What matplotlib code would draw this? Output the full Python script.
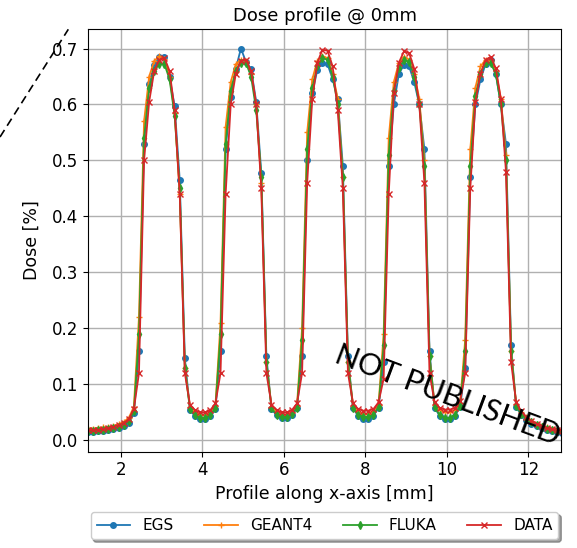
"""
Dose profile at 0 mm depth: EGS / GEANT4 / FLUKA simulations against measured data
"""

import numpy as np
import matplotlib
matplotlib.use('Agg')
import matplotlib.pyplot as plt
from matplotlib.lines import Line2D

# ------------------------------------------------------------------
# Profile samples (x in mm, 0.125 mm detector pitch)
# ------------------------------------------------------------------
x_mm = np.arange(94) * 0.125 + 1.2

egs = [
    # left tail
    0.015, 0.015, 0.016, 0.017, 0.018, 0.020, 0.022, 0.025, 0.031, 0.048,
    # peak 1 / valley 1
    0.16, 0.53, 0.637, 0.671, 0.684, 0.685, 0.649, 0.597, 0.465, 0.147,
    0.055, 0.043, 0.038, 0.038, 0.043, 0.056,
    # peak 2 / valley 2
    0.16, 0.52, 0.614, 0.664, 0.700, 0.676, 0.663, 0.605, 0.478, 0.15,
    0.056, 0.045, 0.040, 0.040, 0.045, 0.057,
    # peak 3 / valley 3
    0.15, 0.50, 0.62, 0.662, 0.674, 0.672, 0.645, 0.61, 0.49, 0.15,
    0.057, 0.044, 0.038, 0.038, 0.044, 0.058,
    # peak 4 / valley 4
    0.14, 0.49, 0.60, 0.655, 0.671, 0.668, 0.64, 0.60, 0.52, 0.16,
    0.058, 0.044, 0.038, 0.038, 0.044, 0.060,
    # peak 5
    0.13, 0.47, 0.60, 0.645, 0.672, 0.680, 0.655, 0.60, 0.53, 0.17,
    # right tail
    0.060, 0.045, 0.036, 0.030, 0.026, 0.022, 0.019, 0.017, 0.015, 0.014,
]

geant4 = [
    0.021, 0.021, 0.022, 0.023, 0.024, 0.026, 0.029, 0.033, 0.040, 0.060,
    0.22, 0.57, 0.650, 0.678, 0.686, 0.682, 0.650, 0.585, 0.44, 0.13,
    0.060, 0.050, 0.045, 0.045, 0.050, 0.062,
    0.21, 0.56, 0.640, 0.672, 0.680, 0.678, 0.655, 0.60, 0.46, 0.14,
    0.060, 0.050, 0.046, 0.046, 0.051, 0.062,
    0.20, 0.55, 0.645, 0.678, 0.686, 0.683, 0.655, 0.61, 0.47, 0.14,
    0.062, 0.051, 0.047, 0.047, 0.052, 0.064,
    0.19, 0.54, 0.640, 0.675, 0.685, 0.680, 0.655, 0.61, 0.50, 0.15,
    0.064, 0.054, 0.050, 0.050, 0.054, 0.066,
    0.18, 0.52, 0.630, 0.668, 0.680, 0.678, 0.66, 0.61, 0.51, 0.16,
    0.065, 0.050, 0.041, 0.035, 0.030, 0.026, 0.023, 0.021, 0.019, 0.018,
]

fluka = [
    0.017, 0.017, 0.018, 0.019, 0.020, 0.022, 0.024, 0.028, 0.034, 0.052,
    0.19, 0.54, 0.630, 0.660, 0.673, 0.672, 0.645, 0.580, 0.45, 0.13,
    0.056, 0.045, 0.040, 0.040, 0.045, 0.058,
    0.19, 0.53, 0.625, 0.660, 0.675, 0.674, 0.650, 0.590, 0.47, 0.14,
    0.057, 0.046, 0.042, 0.042, 0.047, 0.058,
    0.18, 0.52, 0.630, 0.668, 0.683, 0.680, 0.650, 0.60, 0.47, 0.14,
    0.058, 0.046, 0.042, 0.042, 0.046, 0.060,
    0.17, 0.51, 0.625, 0.665, 0.680, 0.676, 0.650, 0.60, 0.49, 0.15,
    0.060, 0.045, 0.040, 0.040, 0.046, 0.062,
    0.16, 0.49, 0.615, 0.655, 0.675, 0.674, 0.655, 0.60, 0.50, 0.16,
    0.062, 0.047, 0.038, 0.032, 0.028, 0.024, 0.021, 0.019, 0.017, 0.016,
]

data_meas = [
    0.018, 0.018, 0.019, 0.020, 0.022, 0.024, 0.027, 0.031, 0.038, 0.056,
    0.12, 0.50, 0.605, 0.660, 0.680, 0.683, 0.660, 0.59, 0.44, 0.12,
    0.064, 0.054, 0.050, 0.050, 0.054, 0.066,
    0.12, 0.44, 0.60, 0.655, 0.678, 0.680, 0.66, 0.60, 0.45, 0.12,
    0.064, 0.054, 0.050, 0.050, 0.054, 0.066,
    0.12, 0.46, 0.61, 0.675, 0.698, 0.696, 0.668, 0.59, 0.45, 0.12,
    0.066, 0.056, 0.053, 0.053, 0.056, 0.068,
    0.11, 0.44, 0.62, 0.675, 0.695, 0.692, 0.664, 0.60, 0.46, 0.12,
    0.068, 0.058, 0.055, 0.055, 0.058, 0.070,
    0.12, 0.45, 0.605, 0.655, 0.680, 0.685, 0.665, 0.61, 0.48, 0.14,
    0.068, 0.052, 0.042, 0.035, 0.030, 0.026, 0.022, 0.020, 0.018, 0.017,
]

series = [
    ('EGS', egs, '#1f77b4', 'o', 4.0),
    ('GEANT4', geant4, '#ff7f0e', '+', 5.0),
    ('FLUKA', fluka, '#2ca02c', 'd', 4.0),
    ('DATA', data_meas, '#d62728', 'x', 4.0),
]

# ------------------------------------------------------------------
# Plot
# ------------------------------------------------------------------
fig = plt.figure(figsize=(5.77, 5.48), dpi=100)
ax = fig.add_axes([0.1525, 0.1757, 0.8198, 0.7708])

for label, y, color, marker, ms in series:
    ax.plot(x_mm, y, color=color, marker=marker, markersize=ms,
            linewidth=1.3, markeredgewidth=1.0, label=label)

ax.set_xlim(1.2, 12.8)
ax.set_xticks([2, 4, 6, 8, 10, 12])
ax.set_yticks([0.0, 0.1, 0.2, 0.3, 0.4, 0.5, 0.6, 0.7])
ax.grid(True, color='#b0b0b0', linewidth=1.0)
ax.tick_params(labelsize=12)
ax.set_title('Dose profile @ 0mm', fontsize=13)
ax.set_xlabel('Profile along x-axis [mm]', fontsize=12.5)
ax.set_ylabel('Dose [%]', fontsize=12.5, labelpad=8)

ax.legend(loc='upper center', bbox_to_anchor=(0.5, -0.125), ncol=4,
          fontsize=11, shadow=True, columnspacing=2.0, handlelength=2.2)

# watermark and margin line
fig.text(0.775, 0.279, 'NOT PUBLISHED', fontsize=22, family='Lato',
         rotation=-20.5, ha='center', va='center', color='black')
fig.add_artist(Line2D([0.0, 0.1184], [0.75, 0.9465], transform=fig.transFigure,
                      color='black', linestyle=(0, (5, 3)), linewidth=1.2))

fig.savefig('out.png', dpi=100)
